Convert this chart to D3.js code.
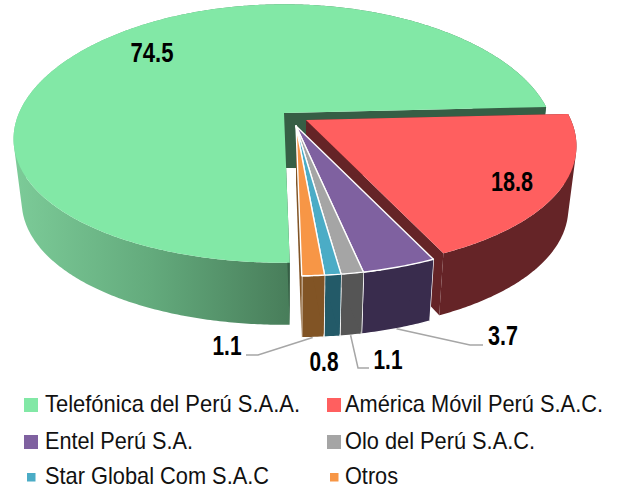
<!DOCTYPE html>
<html><head><meta charset="utf-8">
<script src="https://cdn.jsdelivr.net/npm/d3@7"></script>
<style>html,body{margin:0;padding:0;background:#fff}svg{display:block}</style>
</head><body><svg id="c" width="619" height="490"></svg>
<script>
const categories = ["Telefónica del Perú S.A.A.","América Móvil Perú S.A.C.","Entel Perú S.A.","Olo del Perú S.A.C.","Star Global Com S.A.C","Otros"];
const values = [74.5,18.8,3.7,1.1,0.8,1.1];
const valueLabels = ["74.5","18.8","3.7","1.1","0.8","1.1"];
const topColors = ["#82e8a6","#ff5f5f","#7f61a0","#a5a5a5","#4bacc6","#f79646"];
const sideColors = ["url(#gs)","#652427","#392c4d","#555555","#235a68","#815425"];
const wallColors = ["#365e45","#652427","#392c4d","#555555","#235a68","#815425"];
// layout constants
const center = [284,113];
const explode = [[0,0],[22,7],[12,13],[12,13],[12,13],[12,13]];
const labelPos = [[152,62],[512,191],[503,345],[388,369],[324,371],[227,355]];
const labelWidths = [43,42,30,29,29,29];
const leaders = [null,null,[[2,0.5,[470,345],[483,345]]],[[3,0.5,[358,368],[369,368]]],null,[[5,0.5,[258,355],[246,355]]]];
const legendPos = [[24,45,412,14],[327,345,412,14],[24,45,449,14],[327,345,449,14],[27,45,484,8.5],[330,345,484,8.5]];
const legendWidths = [255,258,148,190,224,53];

const svg = d3.select("#c");
const defs = svg.append("defs");
const gs = defs.append("linearGradient").attr("id","gs").attr("gradientUnits","userSpaceOnUse")
  .attr("x1",15).attr("x2",290).attr("y1",0).attr("y2",0);
gs.append("stop").attr("offset",0).attr("stop-color","#7ccb98");
gs.append("stop").attr("offset",0.5).attr("stop-color","#63aa7c");
gs.append("stop").attr("offset",1).attr("stop-color","#487d5a");

const pie = d3.pie().sort(null).startAngle(179*Math.PI/180).endAngle((179+360)*Math.PI/180);
const arcs = pie(values);
const rx = d3.scaleLinear().domain([0,1]).range([0,265]);
const ry = d3.scaleLinear().domain([0,1]).range([0,126]);
const kx = 0.2, ky = 0.159, sx = 0.97, depthInner = 55, depthOuter = 62;
function proj(a, r, i, low){
  const u = r*Math.sin(a), v = -r*Math.cos(a);
  let dx = rx(u)/(1-kx*v), dy = ry(v)/(1-ky*v);
  if(low){dx*=sx;dy=dy+depthInner+(depthOuter-depthInner)*r;}
  return [center[0]+explode[i][0]+dx, center[1]+explode[i][1]+dy];
}
const line = d3.line();
const samples = (d)=>d3.range(0,Math.ceil((d.endAngle-d.startAngle)/0.01)+1).map(j=>Math.min(d.startAngle+j*0.01,d.endAngle));
function sidePath(d,i){
  const s = samples(d);
  if(i<2) return d3.pairs(s).map(([a,b])=>{
    const q=[proj(a,1,i,false),proj(b,1,i,false),proj(b,1,i,true),proj(a,1,i,true)];
    if(d3.polygonArea(q)<0) q.reverse();
    return line(q)+"Z";
  }).join("");
  return line(s.map(a=>proj(a,1,i,false)).concat(s.slice().reverse().map(a=>proj(a,1,i,true))))+"Z";
}
function wallPath(a,i){
  return line([proj(a,0,i,false),proj(a,1,i,false),proj(a,1,i,true),proj(a,0,i,true)])+"Z";
}
function topPath(d,i){
  return line([proj(0,0,i,false)].concat(samples(d).map(a=>proj(a,1,i,false))))+"Z";
}
const g = svg.append("g");
arcs.forEach((d,i)=>{
  const st = i>=2 ? "#fff" : "none", sw = i>=2 ? 1.4 : 0;
  g.append("path").attr("d",sidePath(d,i)).attr("fill",sideColors[i]).attr("stroke",st).attr("stroke-width",sw).attr("stroke-linejoin","round");
  g.append("path").attr("d",wallPath(d.endAngle,i)).attr("fill",wallColors[i]);
  g.append("path").attr("d",wallPath(d.startAngle,i)).attr("fill",wallColors[i]);
  g.append("path").attr("d",topPath(d,i)).attr("fill",topColors[i]).attr("stroke",st).attr("stroke-width",sw).attr("stroke-linejoin","round");
});
// leaders
leaders.forEach((l,i)=>{
  if(!l) return;
  const [s,f,e1,e2]=l[0], d=arcs[s];
  const p=proj(d.startAngle+(d.endAngle-d.startAngle)*f,1,s,true);
  svg.append("path").attr("d",line([p,e1,e2])).attr("fill","none").attr("stroke","#a6a6a6").attr("stroke-width",1.5);
});
valueLabels.forEach((t,i)=>{
  svg.append("text").attr("x",labelPos[i][0]-labelWidths[i]/2).attr("y",labelPos[i][1])
    .attr("font-family","'Liberation Sans',sans-serif").attr("font-weight","bold").attr("font-size",27)
    .attr("textLength",labelWidths[i]).attr("lengthAdjust","spacingAndGlyphs")
    .attr("fill","#000").text(t);
});
categories.forEach((t,i)=>{
  const [sxp,tx,by,sz]=legendPos[i];
  svg.append("rect").attr("x",sxp).attr("y",by-(sz===14?14:11)).attr("width",sz).attr("height",sz).attr("fill",topColors[i]);
  svg.append("text").attr("x",tx).attr("y",by).attr("font-family","'Liberation Sans','Arial',sans-serif")
    .attr("font-size",24).attr("fill","#111").attr("textLength",legendWidths[i]).attr("lengthAdjust","spacingAndGlyphs").text(t);
});
</script></body></html>
